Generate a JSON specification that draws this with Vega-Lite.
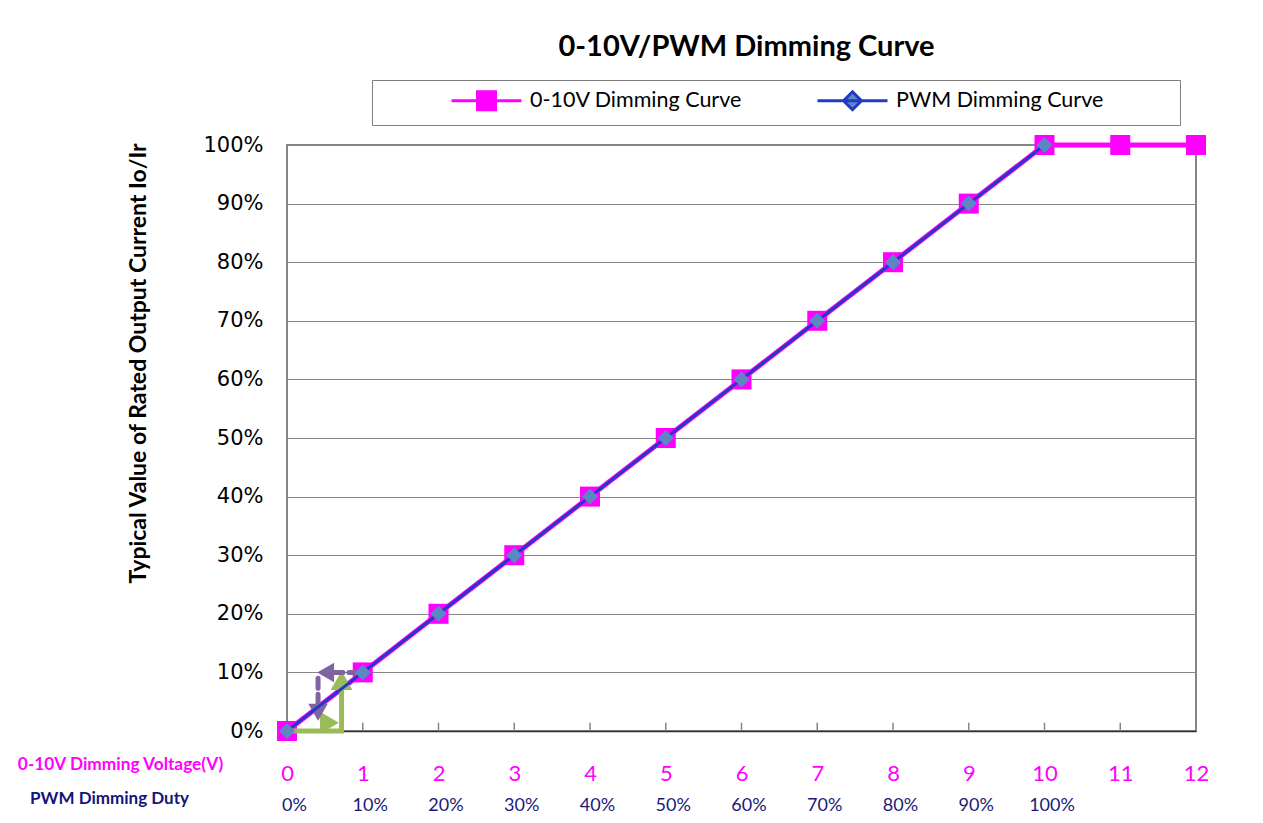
{
"$schema":"https://vega.github.io/schema/vega-lite/v6.json",
"width":909,"height":586,
"autosize":{"type":"none"},
"padding":{"left":287,"top":145,"right":67,"bottom":92},
"background":"#ffffff",
"title":{"text":"0-10V/PWM Dimming Curve","font":"Lato","fontSize":29,"fontWeight":"bold","color":"#000000","anchor":"middle","frame":"group","offset":18,"dx":5},
"datasets":{
"curves":[
{"series":"0-10V Dimming Curve","x":0,"y":0},
{"series":"0-10V Dimming Curve","x":1,"y":10},
{"series":"0-10V Dimming Curve","x":2,"y":20},
{"series":"0-10V Dimming Curve","x":3,"y":30},
{"series":"0-10V Dimming Curve","x":4,"y":40},
{"series":"0-10V Dimming Curve","x":5,"y":50},
{"series":"0-10V Dimming Curve","x":6,"y":60},
{"series":"0-10V Dimming Curve","x":7,"y":70},
{"series":"0-10V Dimming Curve","x":8,"y":80},
{"series":"0-10V Dimming Curve","x":9,"y":90},
{"series":"0-10V Dimming Curve","x":10,"y":100},
{"series":"0-10V Dimming Curve","x":11,"y":100},
{"series":"0-10V Dimming Curve","x":12,"y":100},
{"series":"PWM Dimming Curve","x":0,"y":0},
{"series":"PWM Dimming Curve","x":1,"y":10},
{"series":"PWM Dimming Curve","x":2,"y":20},
{"series":"PWM Dimming Curve","x":3,"y":30},
{"series":"PWM Dimming Curve","x":4,"y":40},
{"series":"PWM Dimming Curve","x":5,"y":50},
{"series":"PWM Dimming Curve","x":6,"y":60},
{"series":"PWM Dimming Curve","x":7,"y":70},
{"series":"PWM Dimming Curve","x":8,"y":80},
{"series":"PWM Dimming Curve","x":9,"y":90},
{"series":"PWM Dimming Curve","x":10,"y":100}
],
"xticks":[{"x":1},{"x":2},{"x":3},{"x":4},{"x":5},{"x":6},{"x":7},{"x":8},{"x":9},{"x":10},{"x":11}],
"arrowLines":[
{"arrow":"green","seg":"g1","order":1,"x":0,"y":0},
{"arrow":"green","seg":"g1","order":2,"x":0.72,"y":0},
{"arrow":"green","seg":"g1","order":3,"x":0.72,"y":7.5},
{"arrow":"purple","seg":"p1","order":1,"x":0.95,"y":10},
{"arrow":"purple","seg":"p1","order":2,"x":0.5,"y":10},
{"arrow":"purple","seg":"p2","order":1,"x":0.41,"y":9},
{"arrow":"purple","seg":"p2","order":2,"x":0.41,"y":3.5}
],
"arrowHeads":[
{"arrow":"green","head":"up","x":0.72,"y":8.6},
{"arrow":"green","head":"right","x":0.56,"y":1.4},
{"arrow":"purple","head":"left","x":0.51,"y":10},
{"arrow":"purple","head":"down","x":0.41,"y":3.2}
]
},
"resolve":{"axis":{"x":"independent"}},
"layer":[
{
"data":{"name":"xticks"},
"mark":{"type":"rule","color":"#868686","strokeWidth":1.5},
"encoding":{
"x":{"field":"x","type":"quantitative","axis":null},
"y":{"datum":0,"type":"quantitative"},
"y2":{"datum":1.4}
}
},
{
"data":{"name":"curves"},
"transform":[{"filter":"datum.series == '0-10V Dimming Curve'"}],
"mark":{"type":"line","strokeWidth":5},
"encoding":{
"x":{"field":"x","type":"quantitative","scale":{"domain":[0,12],"nice":false,"zero":false},
"axis":{"orient":"bottom","values":[0,1,2,3,4,5,6,7,8,9,10,11,12],"grid":false,"domainColor":"#333333","domainWidth":1.5,"ticks":false,"labelFont":"Lato","labelFontSize":22,"labelColor":"#FF00FF","labelBaseline":"middle","labelPadding":42,"labelFlush":false,"labelOverlap":false,
"title":"0-10V Dimming Voltage(V)","titleFont":"Lato","titleFontSize":17.3,"titleFontWeight":"bold","titleColor":"#FF00FF","titleX":-167,"titleY":33,"titleAlign":"center","titleBaseline":"middle","titleAngle":0}},
"y":{"field":"y","type":"quantitative","scale":{"domain":[0,100],"nice":false},
"axis":{"values":[0,10,20,30,40,50,60,70,80,90,100],"labelExpr":"datum.value + '%'","labelFont":"DejaVu Sans","labelFontSize":21,"labelColor":"#000000","labelPadding":24,"labelOverlap":false,"labelFlush":false,"ticks":false,"domain":false,"grid":true,"gridColor":"#868686","gridWidth":1,
"title":"Typical Value of Rated Output Current Io/Ir","titleFont":"Lato","titleFontSize":23,"titleFontWeight":"bold","titleColor":"#000000","titleX":-149,"titleY":218,"titleAngle":-90,"titleAlign":"center","titleBaseline":"middle"}},
"color":{"field":"series","type":"nominal","scale":{"domain":["0-10V Dimming Curve","PWM Dimming Curve"],"range":["#FF00FF","#2339C4"]},
"legend":{"orient":"none","legendX":85,"legendY":-65,"direction":"horizontal","title":"\u00a0","titleOrient":"right","titlePadding":68,"titleFontSize":21,"titleColor":"#ffffff","strokeColor":"#7f7f7f","fillColor":"#ffffff","padding":9,"symbolSize":400,"symbolStrokeWidth":3,"symbolOffset":94,"labelOffset":32,"labelFont":"Lato","labelFontSize":21.5,"labelColor":"#000000","columnPadding":4,"labelLimit":500,
"encode":{"symbols":{"update":{"shape":{"signal":"datum.value == 'PWM Dimming Curve' ? 'M-3.5,0H3.5M0,-0.9L0.9,0L0,0.9L-0.9,0Z' : 'M-3.5,0H3.5M-0.9,-0.9H0.9V0.9H-0.9Z'"},"fill":{"signal":"datum.value == 'PWM Dimming Curve' ? '#5B87C5' : '#FF00FF'"},"fillOpacity":{"value":1},"opacity":{"value":1}}}}}}
}
},
{
"data":{"name":"curves"},
"transform":[{"filter":"datum.series == '0-10V Dimming Curve'"}],
"mark":{"type":"point","shape":"square","filled":true,"size":400,"color":"#FF00FF","opacity":1},
"encoding":{
"x":{"field":"x","type":"quantitative","axis":null},
"y":{"field":"y","type":"quantitative"}
}
},
{
"data":{"name":"arrowLines"},
"transform":[{"filter":"datum.arrow == 'green'"}],
"mark":{"type":"line","strokeWidth":5,"color":"#9BBB59"},
"encoding":{
"x":{"field":"x","type":"quantitative","axis":null},
"y":{"field":"y","type":"quantitative"},
"detail":{"field":"seg"},
"order":{"field":"order"}
}
},
{
"data":{"name":"arrowHeads"},
"transform":[{"filter":"datum.arrow == 'green'"}],
"mark":{"type":"point","filled":true,"size":480,"color":"#9BBB59","opacity":1},
"encoding":{
"x":{"field":"x","type":"quantitative","axis":null},
"y":{"field":"y","type":"quantitative"},
"shape":{"field":"head","type":"nominal","scale":{"domain":["up","right","left","down"],"range":["triangle-up","triangle-right","triangle-left","triangle-down"]},"legend":null}
}
},
{
"data":{"name":"arrowLines"},
"transform":[{"filter":"datum.arrow == 'purple'"}],
"mark":{"type":"line","strokeWidth":5,"color":"#8064A2","strokeDash":[10,6],"strokeCap":"round"},
"encoding":{
"x":{"field":"x","type":"quantitative","axis":null},
"y":{"field":"y","type":"quantitative"},
"detail":{"field":"seg"},
"order":{"field":"order"}
}
},
{
"data":{"name":"arrowHeads"},
"transform":[{"filter":"datum.arrow == 'purple'"}],
"mark":{"type":"point","filled":true,"size":380,"color":"#8064A2","opacity":1},
"encoding":{
"x":{"field":"x","type":"quantitative","axis":null},
"y":{"field":"y","type":"quantitative"},
"shape":{"field":"head","type":"nominal","legend":null}
}
},
{
"data":{"name":"curves"},
"transform":[{"filter":"datum.series == 'PWM Dimming Curve'"}],
"mark":{"type":"line","strokeWidth":3},
"encoding":{
"x":{"field":"x","type":"quantitative","axis":null},
"y":{"field":"y","type":"quantitative"},
"color":{"field":"series","type":"nominal"}
}
},
{
"data":{"name":"curves"},
"transform":[{"filter":"datum.series == 'PWM Dimming Curve'"}],
"mark":{"type":"point","shape":"diamond","filled":true,"size":256,"color":"#5B87C5","opacity":1},
"encoding":{
"x":{"field":"x","type":"quantitative",
"axis":{"orient":"bottom","values":[0,1,2,3,4,5,6,7,8,9,10],"labelExpr":"datum.value * 10 + '%'","grid":false,"domain":false,"ticks":false,"labelFont":"Lato","labelFontSize":18,"labelColor":"#1A1A7A","labelBaseline":"middle","labelPadding":74,"labelOffset":7,"labelFlush":false,"labelOverlap":false,
"title":"PWM Dimming Duty","titleFont":"Lato","titleFontSize":17,"titleFontWeight":"bold","titleColor":"#14147A","titleX":-178,"titleY":67,"titleAlign":"center","titleBaseline":"middle","titleAngle":0}},
"y":{"field":"y","type":"quantitative"}
}
}
],
"config":{"font":"Lato","view":{"stroke":"#868686","strokeWidth":2},"axis":{"labelFont":"Lato","titleFont":"Lato"}}
}
